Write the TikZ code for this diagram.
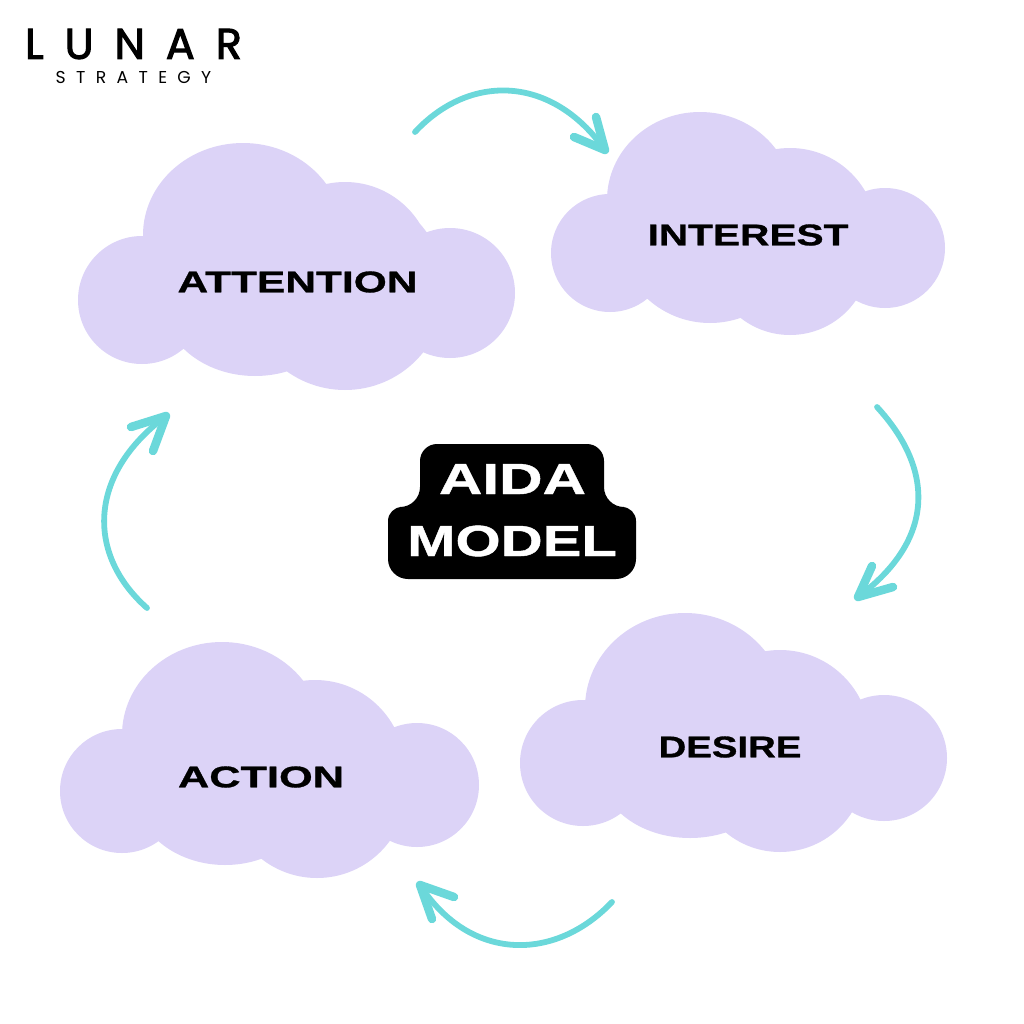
\documentclass[tikz,border=0pt]{standalone}
\usepackage{fontspec}
\setmainfont{Liberation Sans}[FakeStretch=1.38,BoldFeatures={FakeBold=1}]
\newfontfamily\lunarfont{Poppins}[LetterSpace=49,FakeBold=2.5]
\newfontfamily\strategyfont{Poppins}[LetterSpace=60]
\definecolor{cloudlilac}{HTML}{DCD3F7}
\definecolor{arrowteal}{HTML}{6BD8DA}
\tikzset{
	cloudpart/.style={fill=cloudlilac,draw=none},
	stagelabel/.style={font=\fontsize{8.5}{10}\selectfont\bfseries,text=black,inner sep=0pt},
	modellabel/.style={font=\fontsize{12.4}{14}\selectfont\bfseries,text=white,inner sep=0pt},
	cyclearrow/.style={draw=arrowteal,line width=0.058cm,line cap=round,line join=round},
	cyclehead/.style={draw=arrowteal,line width=0.085cm,line cap=round,line join=round}
}
\begin{document}
\begin{tikzpicture}[x=0.01cm,y=-0.01cm]
        \useasboundingbox (0, 0) rectangle (1024, 1024);
        % logo
        \node[font=\fontsize{12.2}{14}\selectfont\lunarfont,inner sep=0pt] (lunar_logo) at (133.5, 44) {LUNAR};
        \node[font=\fontsize{4.9}{6}\selectfont\strategyfont,inner sep=0pt] (strategy_logo) at (133.5, 77) {STRATEGY};
        % clouds
        \fill[cloudpart] (142, 300) circle (64) (243, 235) ellipse (100 and 92) (345, 270) circle (88) (450, 293) circle (65) (255, 300) ellipse (93 and 76) (345, 290) circle (100);
        \fill[cloudpart] (610, 253) circle (59) (700, 200) ellipse (93 and 88) (790, 235) circle (87) (885, 248) circle (60) (710, 230) circle (93) (790, 255) circle (80);
        \fill[cloudpart] (583, 763) circle (63) (685, 708) ellipse (100 and 95) (780, 740) circle (90) (884, 758) circle (63) (690, 770) ellipse (90 and 68) (780, 767) circle (85);
        \fill[cloudpart] (122, 791) circle (62) (222, 735) ellipse (100 and 93) (315, 770) circle (90) (417, 785) circle (62) (225, 790) ellipse (91 and 75) (317, 788) circle (90);
        \node[stagelabel] (attention) at (297.5, 282) {\scalebox{1.03}[1]{ATTENTION}};
        \node[stagelabel] (interest) at (748, 235) {\scalebox{0.985}[1]{INTEREST}};
        \node[stagelabel] (desire) at (730, 747) {\scalebox{0.93}[1]{DESIRE}};
        \node[stagelabel] (action) at (261, 777) {\scalebox{1.05}[1]{ACTION}};
        % centre badge
        \fill[black] (437, 444) -- (587, 444) arc[start angle=-90, end angle=0, radius=17] -- (604, 487) arc[start angle=180, end angle=90, radius=20] -- (622, 507) arc[start angle=-90, end angle=0, radius=14] -- (636, 559) arc[start angle=0, end angle=90, radius=20] -- (408, 579) arc[start angle=90, end angle=180, radius=20] -- (388, 521) arc[start angle=180, end angle=270, radius=14] -- (400, 507) arc[start angle=90, end angle=0, radius=20] -- (420, 461) arc[start angle=180, end angle=270, radius=17] -- cycle;
        \node[modellabel] (aida) at (512.5, 479) {AIDA};
        \node[modellabel] (model) at (512, 541) {\scalebox{0.965}[1]{MODEL}};
        % arrows
        \coordinate (a_start) at (415, 132);
        \coordinate (a_end) at (605, 150);
        \coordinate (a_barb_1) at (596, 117);
        \coordinate (a_barb_2) at (574, 137);
        \draw[cyclearrow] (a_start) .. controls (470, 73) and (552, 75) .. (a_end);
        \draw[cyclehead] (a_barb_1) -- (a_end) -- (a_barb_2);
        \coordinate (b_start) at (877, 407);
        \coordinate (b_end) at (858, 597);
        \coordinate (b_barb_1) at (872, 566);
        \coordinate (b_barb_2) at (893, 587);
        \draw[cyclearrow] (b_start) .. controls (935, 470) and (935, 540) .. (b_end);
        \draw[cyclehead] (b_barb_1) -- (b_end) -- (b_barb_2);
        \coordinate (c_start) at (612, 902);
        \coordinate (c_end) at (420, 885);
        \coordinate (c_barb_1) at (432, 919);
        \coordinate (c_barb_2) at (454, 897);
        \draw[cyclearrow] (c_start) .. controls (555, 962) and (470, 962) .. (c_end);
        \draw[cyclehead] (c_barb_1) -- (c_end) -- (c_barb_2);
        \coordinate (d_start) at (147, 608);
        \coordinate (d_end) at (166, 416);
        \coordinate (d_barb_1) at (153, 451);
        \coordinate (d_barb_2) at (131, 427);
        \draw[cyclearrow] (d_start) .. controls (87, 555) and (87, 475) .. (d_end);
        \draw[cyclehead] (d_barb_1) -- (d_end) -- (d_barb_2);
    \end{tikzpicture}
\end{document}
